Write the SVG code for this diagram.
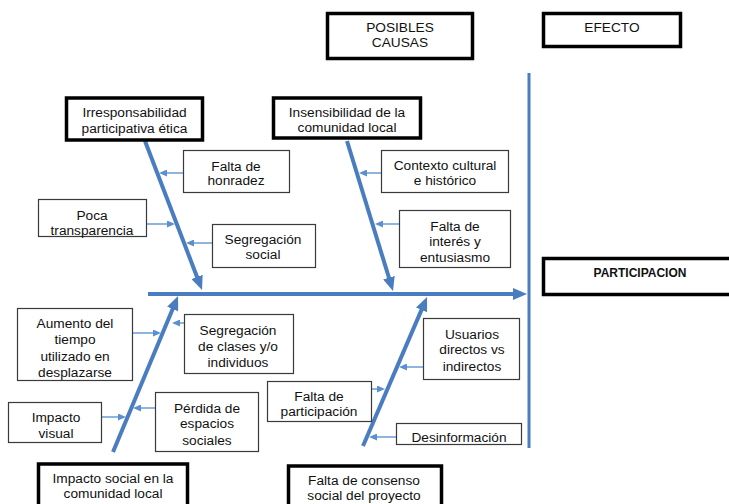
<svg xmlns="http://www.w3.org/2000/svg" width="729" height="504" viewBox="0 0 729 504">
<style>
text{font-family:"Liberation Sans",Arial,sans-serif;font-size:13.7px;fill:#111;text-anchor:middle}
.b{font-weight:bold;font-size:12px}
.thick{fill:#fff;stroke:#000;stroke-width:3.5}
.thin{fill:#fff;stroke:#3a3a3a;stroke-width:1.2}
.bone{stroke:#4a7dbf;stroke-width:4;fill:none}
.rib{stroke:#6a9bd6;stroke-width:1.5;fill:none}
</style>
<defs>
<marker id="big" markerUnits="userSpaceOnUse" markerWidth="14" markerHeight="12" viewBox="0 0 14 12" refX="3" refY="6" orient="auto"><path d="M0,0 L14,6 L0,12 z" fill="#4a7dbf"/></marker>
<marker id="small" markerUnits="userSpaceOnUse" markerWidth="8" markerHeight="7" viewBox="0 0 8 7" refX="1" refY="3.5" orient="auto"><path d="M0,0 L8,3.5 L0,7 z" fill="#5b8fd0"/></marker>
</defs>
<g id="connectors">
<line class="bone" x1="529" y1="73" x2="529" y2="448" style="stroke-width:3"/>
<line class="bone" x1="148" y1="294" x2="516" y2="294" marker-end="url(#big)"/>
<line class="bone" x1="145" y1="141" x2="198.1" y2="279.7" marker-end="url(#big)"/>
<line class="bone" x1="347" y1="141" x2="389.8" y2="280.5" marker-end="url(#big)"/>
<line class="bone" x1="113" y1="452" x2="173.8" y2="306.2" marker-end="url(#big)"/>
<line class="bone" x1="363" y1="446" x2="422.7" y2="307.1" marker-end="url(#big)"/>
<line class="rib" x1="183" y1="173" x2="166" y2="173" marker-end="url(#small)"/>
<line class="rib" x1="146" y1="224" x2="168" y2="224" marker-end="url(#small)"/>
<line class="rib" x1="212" y1="243" x2="193" y2="243" marker-end="url(#small)"/>
<line class="rib" x1="381" y1="173" x2="366" y2="173" marker-end="url(#small)"/>
<line class="rib" x1="399" y1="224" x2="382" y2="224" marker-end="url(#small)"/>
<line class="rib" x1="132" y1="333" x2="154" y2="333" marker-end="url(#small)"/>
<line class="rib" x1="184" y1="323" x2="179" y2="323" marker-end="url(#small)"/>
<line class="rib" x1="102" y1="417" x2="119" y2="417" marker-end="url(#small)"/>
<line class="rib" x1="155" y1="408" x2="140" y2="408" marker-end="url(#small)"/>
<line class="rib" x1="423" y1="367" x2="406" y2="367" marker-end="url(#small)"/>
<line class="rib" x1="372" y1="389" x2="378" y2="389" marker-end="url(#small)"/>
<line class="rib" x1="396" y1="437" x2="376" y2="437" marker-end="url(#small)"/>
</g>
<g id="posibles"><rect class="thick" x="327.5" y="13.5" width="145" height="45"/><text x="400" y="32">POSIBLES</text><text x="400" y="47">CAUSAS</text></g>
<g id="efecto"><rect class="thick" x="543.5" y="13.5" width="137" height="33"/><text x="612" y="32">EFECTO</text></g>
<g id="participacion"><rect class="thick" x="543.5" y="258.5" width="190" height="36"/><text class="b" x="640" y="277">PARTICIPACION</text></g>
<g id="irresponsabilidad"><rect class="thick" x="66.5" y="98" width="136" height="42"/><text x="134.5" y="117">Irresponsabilidad</text><text x="134.5" y="133">participativa ética</text></g>
<g id="insensibilidad"><rect class="thick" x="273.5" y="98" width="147" height="40"/><text x="347" y="117">Insensibilidad de la</text><text x="347" y="132">comunidad local</text></g>
<g id="impacto-social"><rect class="thick" x="38.5" y="464" width="149" height="50"/><text x="113" y="483">Impacto social en la</text><text x="113" y="498">comunidad local</text></g>
<g id="consenso"><rect class="thick" x="288.5" y="466" width="153" height="50"/><text x="364" y="485">Falta de consenso</text><text x="364" y="500">social del proyecto</text></g>
<g id="honradez"><rect class="thin" x="183.5" y="150.5" width="106" height="42"/><text x="236" y="171">Falta de</text><text x="236" y="185">honradez</text></g>
<g id="transparencia"><rect class="thin" x="38.5" y="199.5" width="108" height="37"/><text x="92" y="220">Poca</text><text x="92" y="235">transparencia</text></g>
<g id="segregacion-social"><rect class="thin" x="212.5" y="224.5" width="103" height="43"/><text x="263" y="244">Segregación</text><text x="263" y="259">social</text></g>
<g id="contexto"><rect class="thin" x="381.5" y="150.5" width="127" height="42"/><text x="445" y="170">Contexto cultural</text><text x="445" y="185">e histórico</text></g>
<g id="interes"><rect class="thin" x="399.5" y="210.5" width="111" height="57"/><text x="455" y="231">Falta de</text><text x="455" y="246">interés y</text><text x="455" y="262">entusiasmo</text></g>
<g id="aumento"><rect class="thin" x="17.5" y="308.5" width="115" height="72"/><text x="75" y="328">Aumento del</text><text x="75" y="344">tiempo</text><text x="75" y="361">utilizado en</text><text x="75" y="377">desplazarse</text></g>
<g id="segregacion-clases"><rect class="thin" x="184.5" y="314.5" width="109" height="59"/><text x="238" y="335">Segregación</text><text x="238" y="351">de clases y/o</text><text x="238" y="367">individuos</text></g>
<g id="impacto-visual"><rect class="thin" x="8.5" y="402.5" width="93" height="40"/><text x="56" y="422">Impacto</text><text x="56" y="438">visual</text></g>
<g id="perdida"><rect class="thin" x="155.5" y="392.5" width="103" height="59"/><text x="207" y="413">Pérdida de</text><text x="207" y="428">espacios</text><text x="207" y="445">sociales</text></g>
<g id="falta-participacion"><rect class="thin" x="267.5" y="381.5" width="104" height="40"/><text x="319" y="401">Falta de</text><text x="319" y="416">participación</text></g>
<g id="usuarios"><rect class="thin" x="423.5" y="318.5" width="96" height="61"/><text x="472" y="339">Usuarios</text><text x="472" y="354">directos vs</text><text x="472" y="371">indirectos</text></g>
<g id="desinformacion"><rect class="thin" x="396.5" y="423.5" width="125" height="21"/><text x="459" y="442">Desinformación</text></g>
</svg>
